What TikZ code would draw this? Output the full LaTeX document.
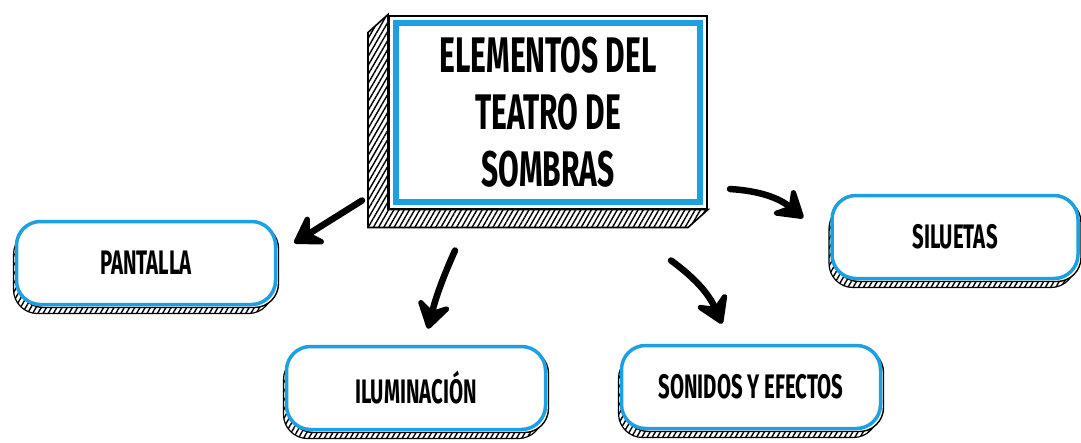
\documentclass[tikz,border=0pt]{standalone}
\usepackage{fontspec}
\newfontfamily\handfont{Fira Sans}[FakeStretch=0.6]
\usetikzlibrary{arrows.meta,positioning,fit,calc,shadows,patterns.meta,backgrounds}
\definecolor{skyblue}{RGB}{28,160,226}

\begin{document}
\begin{tikzpicture}[
  x=1pt, y=-1pt,
  arrow/.style={draw, line width=6.5pt, line cap=round,
                -{Stealth[round, length=24pt, width=30pt, inset=9pt, scale=1.4]}},
  hatch/.style={pattern={Lines[angle=60, distance=4.5pt, line width=1.4pt]}},
  rim/.style={rectangle, draw=black, line width=2pt, fill=white},
  titlebox/.style={rectangle, draw=skyblue, line width=6pt, fill=white, align=center,
                   minimum width=304pt, minimum height=179pt,
                   font=\handfont\bfseries\fontsize{50}{57}\selectfont},
  box/.style={rectangle, rounded corners=24pt, draw=skyblue, line width=3.5pt, fill=white,
              minimum width=259pt, minimum height=83pt, align=center,
              font=\handfont\bfseries\fontsize{34}{38}\selectfont,
              general shadow={shadow xshift=-3pt, shadow yshift=-9pt, draw=black,
                              line width=1.2pt, hatch},
              general shadow={shadow xshift=3pt, shadow yshift=-3pt, draw=black,
                              line width=1.4pt, fill=white}}
]
\useasboundingbox (0,0) rectangle (1081,442);

% =======================================================
%                     MAIN COMPONENTS
% =======================================================
\node[titlebox] (main) at (548,112) {ELEMENTOS DEL\\TEATRO DE\\SOMBRAS};

\node[box] (pant) at (146,263) {PANTALLA};
\node[box] (ilum) at (416,388) {ILUMINACIÓN};
\node[box] (sond) at (751,387) {SONIDOS Y EFECTOS};
\node[box, minimum width=246pt] (silu) at (955,237) {SILUETAS};

% hatched block behind the title
\begin{scope}[on background layer]
\node[rim, fit=(main), inner sep=4pt] (mainrim) {};
\path[hatch, draw=black, line width=1.6pt] (mainrim.north west)
  -- ($(mainrim.north west)+(-20,18)$) -- ($(mainrim.south west)+(-20,18)$)
  -- ($(mainrim.south east)+(-20,18)$) -- (mainrim.south east)
  -- (mainrim.south west) -- cycle;
\end{scope}

% =======================================================
%                     CONNECTIONS
% =======================================================
\draw[arrow] ($(main.south west)+(-31,-4)$) -- ($(pant.east)+(17,-20)$);
\draw[arrow] ($(main.south)+(-93,46)$) to[bend right=5] ($(ilum.north)+(12,-16)$);
\draw[arrow] ($(main.south east)+(-32,56)$) to[bend left=15] ($(sond.north)+(-29,-20)$);
\draw[arrow] ($(main.east)+(27,77)$) to[bend left=18] ($(silu.west)+(-27,-19)$);

\end{tikzpicture}
\end{document}
